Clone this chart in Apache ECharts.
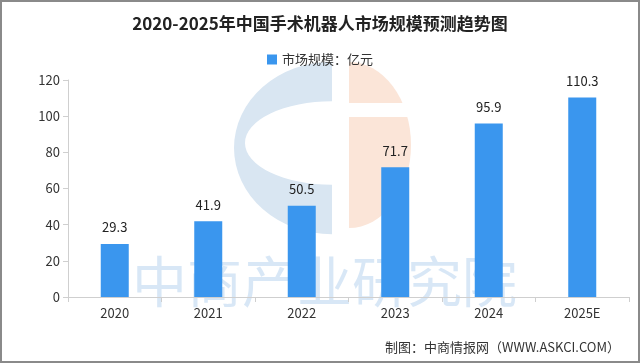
<!DOCTYPE html>
<html>
<head>
<meta charset="utf-8">
<script src="https://cdn.jsdelivr.net/npm/echarts@6/dist/echarts.min.js"></script>
<style>
html,body{margin:0;padding:0;background:#fff;}
#c{width:640px;height:363px;box-sizing:border-box;border:2px solid #8a8a8a;}
</style>
</head>
<body>
<div id="c"></div>
<script>
const titleText = '2020-2025年中国手术机器人市场规模预测趋势图';
const seriesName = '市场规模：亿元';
const categories = ['2020', '2021', '2022', '2023', '2024', '2025E'];
const values = [29.3, 41.9, 50.5, 71.7, 95.9, 110.3];
const yTicks = [0, 20, 40, 60, 80, 100, 120];
const footerText = '制图：中商情报网（WWW.ASKCI.COM）';
const watermarkText = '中商产业研究院';

const font = '"Noto Sans CJK SC", "Noto Sans", sans-serif';
const chart = echarts.init(document.getElementById('c'), null, {renderer: 'canvas'});
chart.setOption({
  backgroundColor: '#fff',
  animation: false,
  textStyle: {fontFamily: font},
  title: {
    text: titleText, left: 'center', top: 8,
    textStyle: {fontSize: 17, fontWeight: 'bold', color: '#222', fontFamily: font}
  },
  legend: {
    data: [seriesName], top: 46, left: 'center',
    itemWidth: 10, itemHeight: 10, icon: 'rect', itemGap: 6,
    textStyle: {fontSize: 13, color: '#333', fontFamily: font}
  },
  grid: {left: 66, right: 9, top: 78, bottom: 64},
  graphic: [
    {type: 'sector', z: -10, x: 330, y: 146, scaleX: 1, scaleY: 0.88,
      shape: {cx: 0, cy: 0, r: 98, r0: 0, startAngle: Math.PI/2, endAngle: Math.PI*3/2, clockwise: true},
      style: {fill: '#d9e6f2'}},
    {type: 'sector', z: -9, x: 330, y: 141, scaleX: 1, scaleY: 0.48,
      shape: {cx: 0, cy: 0, r: 87, r0: 0, startAngle: Math.PI/2, endAngle: Math.PI*3/2, clockwise: true},
      style: {fill: '#fff'}},
    {type: 'sector', z: -10, x: 347, y: 143, scaleX: 1, scaleY: 1.34,
      shape: {cx: 0, cy: 0, r: 62, r0: 0, startAngle: -Math.PI/2, endAngle: Math.PI/2, clockwise: true},
      style: {fill: '#fbe5d8'}},
    {type: 'rect', z: -9, shape: {x: 346, y: 101, width: 70, height: 14}, style: {fill: '#fff'}},
    {type: 'text', z: -8, left: 130, top: 252, style: {text: watermarkText, fontSize: 55, fontFamily: font, fill: 'rgba(100,160,220,0.25)'}},
    {type: 'text', right: 18, top: 339, style: {text: footerText, fontSize: 13, fontFamily: font, fill: '#333'}}
  ],
  xAxis: {
    type: 'category', data: categories,
    axisLine: {lineStyle: {color: '#cfcfcf'}},
    axisTick: {show: true, lineStyle: {color: '#cfcfcf'}},
    axisLabel: {fontSize: 13, color: '#333', margin: 10}
  },
  yAxis: {
    type: 'value', min: 0, max: 120, interval: 20,
    axisLine: {show: true, lineStyle: {color: '#cfcfcf'}},
    axisTick: {show: true, lineStyle: {color: '#cfcfcf'}},
    splitLine: {show: false},
    axisLabel: {fontSize: 13, color: '#333', margin: 8,
      formatter: v => yTicks.includes(v) ? String(v) : ''}
  },
  series: [{
    name: seriesName, type: 'bar', data: values, barWidth: 28,
    itemStyle: {color: '#3a96ee'},
    label: {show: true, position: 'top', distance: 10, fontSize: 13, color: '#222', fontFamily: font}
  }]
});
</script>
</body>
</html>
